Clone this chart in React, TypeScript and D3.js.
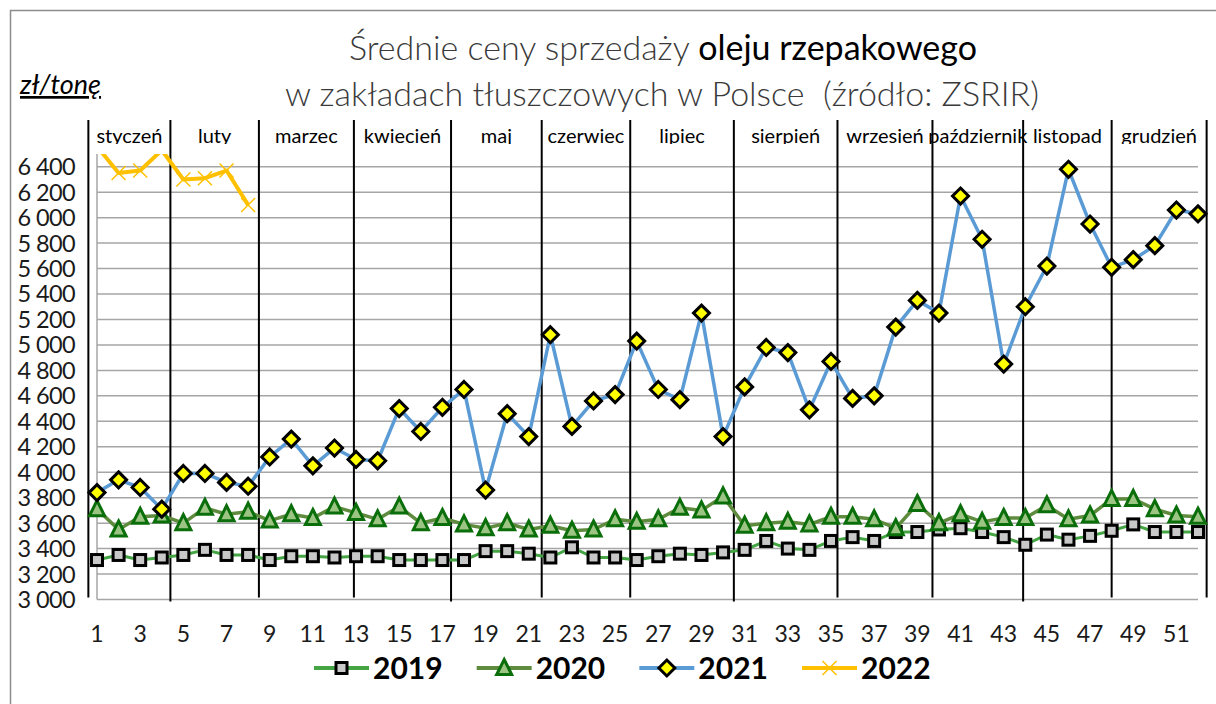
import React from "react";
import * as d3 from "d3";

// weekly average prices, zł/tonę
const prices2019 = [3310, 3350, 3310, 3330, 3350, 3390, 3350, 3350, 3310, 3340, 3340, 3330, 3340, 3340, 3310, 3310, 3310, 3310, 3380, 3380, 3360, 3330, 3410, 3330, 3330, 3310, 3340, 3360, 3350, 3370, 3390, 3460, 3400, 3390, 3460, 3490, 3460, 3530, 3530, 3550, 3560, 3530, 3490, 3430, 3510, 3470, 3500, 3540, 3590, 3530, 3530, 3530];
const prices2020 = [3710, 3550, 3650, 3660, 3600, 3720, 3670, 3690, 3620, 3670, 3640, 3730, 3680, 3630, 3730, 3600, 3640, 3590, 3560, 3600, 3550, 3580, 3540, 3550, 3630, 3610, 3630, 3720, 3700, 3810, 3580, 3600, 3610, 3590, 3650, 3650, 3630, 3560, 3750, 3600, 3670, 3610, 3640, 3640, 3740, 3630, 3660, 3790, 3790, 3710, 3660, 3650];
const prices2021 = [3840, 3940, 3880, 3710, 3990, 3990, 3920, 3890, 4120, 4260, 4050, 4190, 4100, 4090, 4500, 4320, 4510, 4650, 3860, 4460, 4280, 5080, 4360, 4560, 4610, 5030, 4650, 4570, 5250, 4280, 4670, 4980, 4940, 4490, 4870, 4580, 4600, 5140, 5350, 5250, 6170, 5830, 4850, 5300, 5620, 6380, 5950, 5610, 5670, 5780, 6060, 6030];
const prices2022 = [6560, 6350, 6370, 6530, 6300, 6310, 6370, 6100];

const months = ["styczeń", "luty", "marzec", "kwiecień", "maj", "czerwiec", "lipiec", "sierpień", "wrzesień", "październik", "listopad", "grudzień"];
// month separators, in week units
const monthBounds = [0.6, 4.4, 8.5, 12.9, 17.4, 21.6, 25.7, 30.5, 35.3, 39.7, 43.9, 48.0, 52.4];

const yTicks = [3000, 3200, 3400, 3600, 3800, 4000, 4200, 4400, 4600, 4800, 5000, 5200, 5400, 5600, 5800, 6000, 6200, 6400];
const xTicks = [1, 3, 5, 7, 9, 11, 13, 15, 17, 19, 21, 23, 25, 27, 29, 31, 33, 35, 37, 39, 41, 43, 45, 47, 49, 51];

const seriesNames = ["2019", "2020", "2021", "2022"];

const FONT = "Lato, 'Open Sans', sans-serif";

type Style = { line: string; lw: number; marker: string };
const styles: Style[] = [
  { line: "#45a545", lw: 3, marker: "square" },
  { line: "#5f8b3f", lw: 3.5, marker: "triangle" },
  { line: "#5b9bd5", lw: 3.5, marker: "diamond" },
  { line: "#ffc000", lw: 4, marker: "cross" },
];

function Marker({ kind, cx, cy }: { kind: string; cx: number; cy: number }) {
  if (kind === "square") {
    return <rect x={cx - 5.5} y={cy - 5.5} width={11} height={11} fill="#c8c8c8" stroke="#000" strokeWidth={3} />;
  }
  if (kind === "triangle") {
    const h = 7.5;
    return (
      <path
        d={`M${cx},${cy - h - 1}L${cx + h},${cy + h - 1}L${cx - h},${cy + h - 1}Z`}
        fill="#9cc483"
        stroke="#0a6e0a"
        strokeWidth={3}
      />
    );
  }
  if (kind === "diamond") {
    const r = 8;
    return (
      <path d={`M${cx},${cy - r}L${cx + r},${cy}L${cx},${cy + r}L${cx - r},${cy}Z`} fill="#ffff00" stroke="#000" strokeWidth={3} />
    );
  }
  const r = 7;
  return (
    <path d={`M${cx - r},${cy - r}L${cx + r},${cy + r}M${cx - r},${cy + r}L${cx + r},${cy - r}`} stroke="#ffc000" strokeWidth={1.5} fill="none" />
  );
}

export default function App() {
  const W = 1216;
  const H = 704;
  const x = d3.scaleLinear().domain([1, 52]).range([97, 1198]);
  const y = d3.scaleLinear().domain([3000, 6500]).range([599.5, 154]);

  const series = [prices2019, prices2020, prices2021, prices2022];
  const line = d3
    .line<number>()
    .x((_, i) => x(i + 1))
    .y((d) => y(d));

  const fmt = (v: number) => d3.format(",")(v).replace(",", " ");

  const legendX = d3.scalePoint<string>().domain(seriesNames).range([314, 802]);

  return (
    <svg width={W} height={H} style={{ position: "absolute", left: 0, top: 0, background: "#fff" }} fontFamily={FONT}>
      <defs>
        <clipPath id="plot">
          <rect x={85} y={y(6500)} width={1130} height={y(3000) - y(6500) + 12} />
        </clipPath>
        <clipPath id="mlab">
          <rect x={85} y={100} width={1130} height={44} />
        </clipPath>
      </defs>

      <rect x={10.5} y={10.5} width={1300} height={800} fill="#fff" stroke="#8c8c8c" strokeWidth={1.5} />

      {/* title */}
      <text x={663} y={60} textAnchor="middle" fontSize={34} fontWeight={300} fill="#3a3a3a">
        Średnie ceny sprzedaży <tspan fill="#000" fontWeight={400}>oleju rzepakowego</tspan>
      </text>
      <text x={662} y={106} textAnchor="middle" fontSize={34} fontWeight={300} fill="#3a3a3a" style={{ whiteSpace: "pre" }}>
        w zakładach tłuszczowych w Polsce  (źródło: ZSRIR)
      </text>
      <text x={20} y={94} fontSize={27} fontStyle="italic" textDecoration="underline" fill="#000">
        zł/tonę
      </text>

      {/* grid */}
      {yTicks.map((t) => (
        <line key={t} x1={x(1)} x2={x(52)} y1={y(t)} y2={y(t)} stroke="#a6a6a6" strokeWidth={1.5} />
      ))}
      <line x1={x(1)} x2={x(1)} y1={y(6500)} y2={y(3000)} stroke="#a6a6a6" strokeWidth={1.5} />

      {yTicks.map((t) => (
        <text key={t} x={75} y={y(t)} dy="0.36em" textAnchor="end" fontSize={23.5} fill="#1a1a1a" letterSpacing={-0.6}>
          {fmt(t)}
        </text>
      ))}
      {xTicks.map((t) => (
        <text key={t} x={x(t)} y={642} textAnchor="middle" fontSize={23} fill="#1a1a1a">
          {t}
        </text>
      ))}

      {/* month separators and names */}
      {monthBounds.map((b, i) => (
        <line key={i} x1={x(b)} x2={x(b)} y1={120} y2={y(3000) + (i % 3 === 1 ? 2 : -2)} stroke="#000" strokeWidth={2} />
      ))}
      <g clipPath="url(#mlab)">
        {months.map((m, i) => (
          <text key={m} x={(x(monthBounds[i]) + x(monthBounds[i + 1])) / 2} y={143} textAnchor="middle" fontSize={20} fill="#000">
            {m}
          </text>
        ))}
      </g>

      {/* series */}
      <g clipPath="url(#plot)">
        {series.map((s, k) => (
          <g key={k}>
            <path d={line(s) || ""} fill="none" stroke={styles[k].line} strokeWidth={styles[k].lw} strokeLinejoin="round" />
            {s.map((v, i) => (
              <Marker key={i} kind={styles[k].marker} cx={x(i + 1)} cy={y(v)} />
            ))}
          </g>
        ))}
      </g>

      {/* legend */}
      {seriesNames.map((n, k) => {
        const lx = legendX(n) || 0;
        return (
          <g key={n}>
            <line x1={lx} x2={lx + 55} y1={668} y2={668} stroke={styles[k].line} strokeWidth={4} />
            <Marker kind={styles[k].marker} cx={lx + 27.5} cy={668} />
            <text x={lx + 59} y={679} fontSize={30} fontWeight={700} fill="#000">
              {n}
            </text>
          </g>
        );
      })}
    </svg>
  );
}
